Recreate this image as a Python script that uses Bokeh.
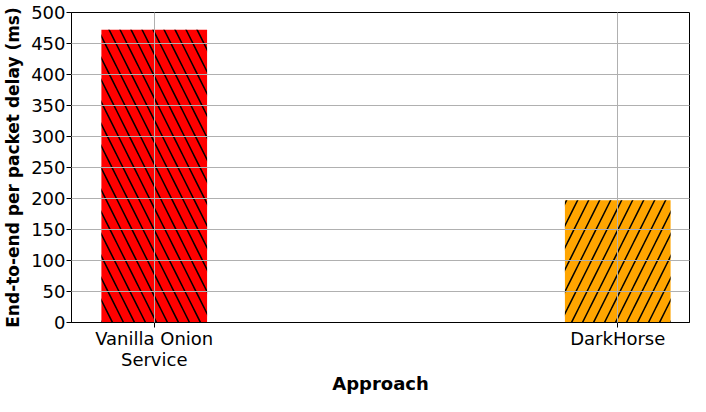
from bokeh.plotting import figure
from bokeh.models import ColumnDataSource, FixedTicker, Range1d
from bokeh.embed import file_html
from bokeh.resources import INLINE

categories = ["Vanilla Onion\nService", "DarkHorse"]
positions = [0, 1]
delays = [472, 197]
colors = ["red", "orange"]
hatches = ["\\", "/"]
yticks = [0, 50, 100, 150, 200, 250, 300, 350, 400, 450, 500]
x_title = "Approach"
y_title = "End-to-end per packet delay (ms)"

src = ColumnDataSource(dict(x=positions, top=delays, color=colors, hatch=hatches))

p = figure(width=690, height=396, output_backend="svg", toolbar_location=None,
           x_range=Range1d(-0.1785, 1.1548), y_range=Range1d(0, 500),
           min_border_left=69, min_border_right=1, min_border_top=12, min_border_bottom=0)

p.vbar(x="x", top="top", width=0.228, source=src, fill_color="color", line_color=None,
       hatch_pattern="hatch", hatch_color="black", hatch_scale=22, hatch_weight=1.5)

p.xaxis.ticker = FixedTicker(ticks=positions)
p.xaxis.major_label_overrides = {pos: lab for pos, lab in zip(positions, categories)}
p.yaxis.ticker = FixedTicker(ticks=yticks)

for ax in (p.xaxis[0], p.yaxis[0]):
    ax.major_label_text_font = "DejaVu Sans"
    ax.major_label_text_font_size = "18px"
    ax.major_label_text_color = "black"
    ax.axis_label_text_font = "DejaVu Sans"
    ax.axis_label_text_font_style = "bold"
    ax.axis_label_text_font_size = "18px"
    ax.axis_label_text_color = "black"
    ax.axis_line_color = "black"
    ax.major_tick_line_color = "black"
    ax.major_tick_out = 5
    ax.major_tick_in = 0
    ax.minor_tick_line_color = None
    ax.major_label_standoff = 1

p.yaxis.axis_label_text_font_size = "17px"
p.xaxis.major_label_standoff = 0
p.xaxis.major_label_text_line_height = 1.0
p.xaxis.axis_label = x_title
p.yaxis.axis_label = y_title
p.xaxis.axis_label_standoff = 0
p.yaxis.axis_label_standoff = 5

p.xgrid.ticker = FixedTicker(ticks=positions)
for g in (p.xgrid[0], p.ygrid[0]):
    g.grid_line_color = "#b0b0b0"
    g.grid_line_width = 1
    g.level = "overlay"

p.outline_line_color = "black"
p.outline_line_width = 1
p.background_fill_color = "white"
p.border_fill_color = "white"

open("out.html", "w").write(file_html(p, INLINE))
